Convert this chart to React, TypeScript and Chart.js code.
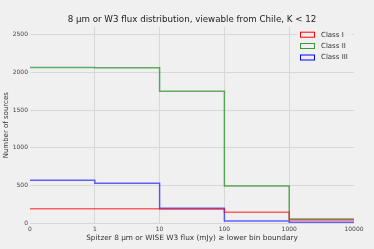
import React, { useEffect, useRef } from "react";
import { Chart, registerables } from "chart.js";

Chart.register(...registerables);

const xTickLabels = ["0", "1", "10", "100", "1000", "10000"];
const yTickValues = [0, 500, 1000, 1500, 2000, 2500];
const seriesNames = ["Class I", "Class II", "Class III"];
const classI = [196, 196, 190, 148, 46];
const classII = [2065, 2060, 1750, 496, 58];
const classIII = [571, 532, 201, 33, 16];
const lineColors = ["rgba(255,0,0,0.6)", "rgba(0,128,0,0.6)", "rgba(0,0,255,0.6)"];
const legendColors = ["#ff0000", "#3a9a3a", "#0000ff"];

const FONT = "'DejaVu Sans', sans-serif";
const TITLE = "8 \u03bcm or W3 flux distribution, viewable from Chile, K < 12";

function toSteps(vals: number[]) {
  const pts = vals.map((v, i) => ({ x: i, y: v }));
  pts.push({ x: vals.length, y: vals[vals.length - 1] });
  return pts;
}

const decorPlugin = {
  id: "decor",
  beforeDraw(chart: any) {
    const ctx = chart.ctx;
    ctx.save();
    ctx.fillStyle = "#f0f0f0";
    ctx.fillRect(0, 0, chart.width, chart.height);
    ctx.restore();
  },
  afterDraw(chart: any) {
    const ctx = chart.ctx;
    const ca = chart.chartArea;
    ctx.save();
    ctx.fillStyle = "#222";
    ctx.font = `8.7px ${FONT}`;
    ctx.textAlign = "center";
    ctx.textBaseline = "middle";
    ctx.fillText(TITLE, (ca.left + ca.right) / 2, 19.5);
    ctx.fillStyle = "rgba(240,240,240,0.85)";
    ctx.fillRect(297, 28, 55, 36);
    const ys = [34.7, 46, 57.5];
    seriesNames.forEach((name, i) => {
      ctx.strokeStyle = legendColors[i];
      ctx.lineWidth = 1;
      ctx.strokeRect(300.5, ys[i] - 2.5, 14, 5);
      ctx.fillStyle = "#333";
      ctx.font = `7px ${FONT}`;
      ctx.textAlign = "left";
      ctx.textBaseline = "middle";
      ctx.fillText(name, 321, ys[i]);
    });
    ctx.restore();
  },
};

export default function App() {
  const ref = useRef<HTMLCanvasElement | null>(null);
  useEffect(() => {
    if (!ref.current) return;
    const datasets = [classI, classII, classIII].map((vals, i) => ({
      label: seriesNames[i],
      data: toSteps(vals),
      borderColor: lineColors[i],
      backgroundColor: lineColors[i],
      borderWidth: 1.5,
      pointRadius: 0,
      stepped: "before" as const,
      fill: false,
    }));
    const chart = new Chart(ref.current, {
      type: "line",
      data: { datasets },
      options: {
        animation: false,
        responsive: false,
        maintainAspectRatio: false,
        layout: { padding: { left: 0, right: 20, top: 27, bottom: 0 } },
        plugins: {
          legend: { display: false },
          title: { display: false },
          tooltip: { enabled: false },
        },
        scales: {
          x: {
            type: "linear",
            min: 0,
            max: 5,
            afterFit: (s: any) => {
              s.height = 25.5;
            },
            afterBuildTicks: (s: any) => {
              s.ticks = xTickLabels.map((_, i) => ({ value: i }));
            },
            ticks: {
              padding: 2,
              maxRotation: 0,
              autoSkip: false,
              color: "#444",
              font: { family: FONT, size: 6 },
              callback: (v: any) => xTickLabels[Math.round(Number(v))] ?? "",
            },
            grid: {
              color: (c: any) =>
                c.tick && (c.tick.value === 0 || c.tick.value === 5) ? "rgba(0,0,0,0)" : "#d8d8d8",
              lineWidth: 1,
              drawTicks: false,
            },
            border: { display: false },
            title: {
              display: true,
              text: "Spitzer 8 \u03bcm or WISE W3 flux (mJy) \u2265 lower bin boundary",
              color: "#333",
              font: { family: FONT, size: 7.35 },
              padding: { top: 6.5, bottom: 6.5 },
            },
          },
          y: {
            min: 0,
            max: 2600,
            afterFit: (s: any) => {
              s.width = 30;
            },
            afterBuildTicks: (s: any) => {
              s.ticks = yTickValues.map((v) => ({ value: v }));
            },
            ticks: {
              padding: 2,
              autoSkip: false,
              color: "#444",
              font: { family: FONT, size: 6 },
              callback: (v: any) => String(v),
            },
            grid: { color: "#d8d8d8", lineWidth: 1, drawTicks: false },
            border: { display: false },
            title: {
              display: true,
              text: "Number of sources",
              color: "#333",
              font: { family: FONT, size: 7 },
              padding: { top: 1.5, bottom: 1.5 },
            },
          },
        },
      },
      plugins: [decorPlugin],
    });
    return () => chart.destroy();
  }, []);
  return (
    <div style={{ position: "fixed", left: 0, top: 0, width: 374, height: 249, background: "#f0f0f0" }}>
      <canvas ref={ref} width={374} height={249} style={{ width: 374, height: 249, display: "block" }} />
    </div>
  );
}
